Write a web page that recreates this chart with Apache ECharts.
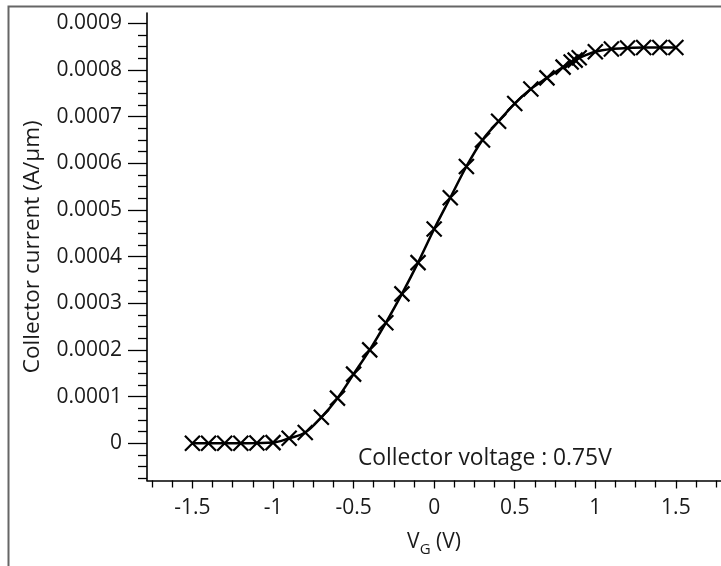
<!DOCTYPE html>
<html>
<head>
<meta charset="utf-8">
<script src="https://cdn.jsdelivr.net/npm/echarts@6/dist/echarts.min.js"></script>
<style>html,body{margin:0;padding:0;background:#fff}#c{width:721px;height:566px}</style>
</head>
<body>
<div id="c"></div>
<script>
var vg = [-1.5,-1.4,-1.3,-1.2,-1.1,-1.0,-0.9,-0.8,-0.7,-0.6,-0.5,-0.4,-0.3,-0.2,-0.1,0,0.1,0.2,0.3,0.4,0.5,0.6,0.7,0.8,0.85,0.875,0.9,1.0,1.1,1.2,1.3,1.4,1.5];
var current = [0,0,0,0,0.0000003,0.0000012,0.0000105,0.0000228,0.0000555,0.0000965,0.000148,0.0002,0.000258,0.00032,0.000387,0.000459,0.000526,0.000593,0.00065,0.00069,0.000728,0.000759,0.000783,0.806e-3,0.817e-3,0.821e-3,0.826e-3,0.839e-3,0.845e-3,0.847e-3,0.848e-3,0.848e-3,0.848e-3];
var xMajorTicks = [-1.5,-1,-0.5,0,0.5,1,1.5];
var xTickLabels = ['-1.5','-1','-0.5','0','0.5','1','1.5'];
var xMinorTicks = [-1.75,-1.625,-1.375,-1.25,-1.125,-0.875,-0.75,-0.625,-0.375,-0.25,-0.125,0.125,0.25,0.375,0.625,0.75,0.875,1.125,1.25,1.375,1.625,1.75];
var yMajorTicks = [0,0.0001,0.0002,0.0003,0.0004,0.0005,0.0006,0.0007,0.0008,0.0009];
var yTickLabels = ['0','0.0001','0.0002','0.0003','0.0004','0.0005','0.0006','0.0007','0.0008','0.0009'];
var yMinorTicks = [-0.000075,-0.00005,-0.000025,0.000025,0.00005,0.000075,0.000125,0.00015,0.000175,0.000225,0.00025,0.000275,0.000325,0.00035,0.000375,0.000425,0.00045,0.000475,0.000525,0.00055,0.000575,0.000625,0.00065,0.000675,0.000725,0.00075,0.000775,0.000825,0.00085,0.000875,0.000925];
var annotation = 'Collector voltage : 0.75V';

var FONT = '"Open Sans", "Noto Sans", sans-serif';
var TXT = '#1a1a1a';
var XMIN = -1.782, XMAX = 1.78, YMIN = -0.00008, YMAX = 0.000922;

function lab(ticks, labels){ return function(v){ for (var i=0;i<ticks.length;i++){ if (Math.abs(ticks[i]-v) < 1e-9) return labels[i]; } return ''; }; }

var chart = echarts.init(document.getElementById('c'), null, {renderer:'canvas'});
chart.setOption({
  animation: false,
  backgroundColor: '#fff',
  grid: {left: 147, top: 13, width: 575.6, height: 467.5, containLabel: false},
  xAxis: [{
    type: 'value', min: XMIN, max: XMAX, position: 'bottom',
    axisLine: {show: true, onZero: false, lineStyle: {color: '#000', width: 1.6}},
    axisTick: {show: true, customValues: xMajorTicks, length: 8, lineStyle: {color: '#000', width: 1.3}},
    axisLabel: {show: true, customValues: xMajorTicks, formatter: lab(xMajorTicks, xTickLabels), fontFamily: FONT, fontSize: 21, color: TXT, margin: 17},
    splitLine: {show: false},
    name: '{v|V}{g|G}{v| (V)}', nameLocation: 'middle', nameGap: 46,
    nameTextStyle: {rich: {
      v: {fontFamily: FONT, fontSize: 21, color: TXT, lineHeight: 30, verticalAlign: 'middle'},
      g: {fontFamily: FONT, fontSize: 15, color: TXT, lineHeight: 31, verticalAlign: 'bottom'}
    }}
  },{
    type: 'value', min: XMIN, max: XMAX, position: 'bottom',
    axisLine: {show: false, onZero: false},
    axisTick: {show: true, customValues: xMinorTicks, length: 7, lineStyle: {color: '#000', width: 1.3}},
    axisLabel: {show: false}, splitLine: {show: false}
  }],
  yAxis: [{
    type: 'value', min: YMIN, max: YMAX, position: 'left',
    axisLine: {show: true, onZero: false, lineStyle: {color: '#000', width: 1.6}},
    axisTick: {show: true, customValues: yMajorTicks, length: 19, lineStyle: {color: '#000', width: 1.3}},
    axisLabel: {show: true, customValues: yMajorTicks, formatter: lab(yMajorTicks, yTickLabels), fontFamily: FONT, fontSize: 21, color: TXT, margin: 25},
    splitLine: {show: false},
    name: 'Collector current (A/\u03bcm)', nameLocation: 'middle', nameGap: 103,
    nameTextStyle: {fontFamily: FONT, fontSize: 22.5, color: TXT}
  },{
    type: 'value', min: YMIN, max: YMAX, position: 'left',
    axisLine: {show: false, onZero: false},
    axisTick: {show: true, customValues: yMinorTicks, length: 9, lineStyle: {color: '#000', width: 1.3}},
    axisLabel: {show: false}, splitLine: {show: false}
  }],
  series: [{
    type: 'line', xAxisIndex: 0, yAxisIndex: 0,
    data: vg.map(function(x,i){ return [x, current[i]]; }),
    smooth: 0.35,
    lineStyle: {color: '#000', width: 2.5},
    symbol: 'path://M0,0L10,10M10,0L0,10', symbolSize: 15,
    itemStyle: {color: '#000', borderColor: '#000', borderWidth: 2.2},
    z: 3
  }],
  graphic: [
    {type: 'rect', shape: {x: 8.5, y: 6.5, width: 800, height: 700}, style: {fill: 'none', stroke: '#666', lineWidth: 2}, z: -1, silent: true},
    {type: 'text', x: 358, y: 458.5, style: {text: annotation, font: '22.8px "Open Sans", sans-serif', fill: TXT, textVerticalAlign: 'middle', verticalAlign: 'middle'}}
  ]
});
</script>
</body>
</html>
